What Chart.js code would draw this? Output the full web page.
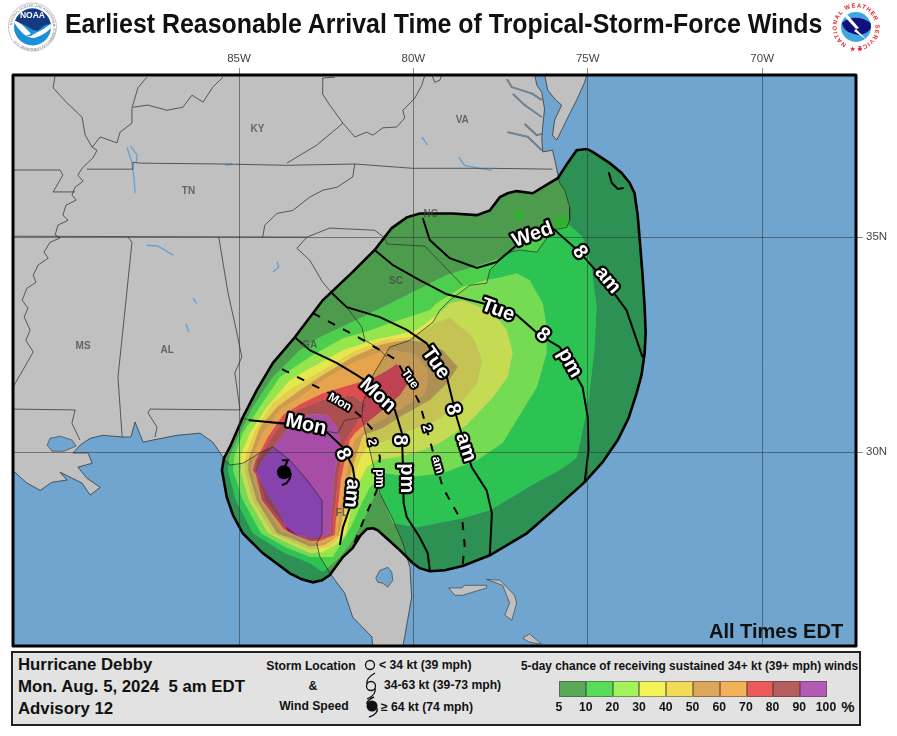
<!DOCTYPE html>
<html>
<head>
<meta charset="utf-8">
<title>Earliest Reasonable Arrival Time of Tropical-Storm-Force Winds</title>
<script src="https://cdn.jsdelivr.net/npm/chart.js@4"></script>
<style>
html, body { margin: 0; padding: 0; background: #fff; }
#page { position: relative; width: 897px; height: 736px; overflow: hidden; font-family: "Liberation Sans", Arial, sans-serif; font-weight: bold; color: #111; }
#page canvas { position: absolute; left: 0; top: 0; }
#title { position: absolute; left: 65px; top: 7px; font-size: 28px; line-height: 34px; white-space: pre; transform-origin: left top; transform: scaleX(0.89); }
#panel { position: absolute; left: 11px; top: 651px; width: 846px; height: 71px; background: #e2e2e2; border: 2px solid #222; }
.t { position: absolute; white-space: pre; transform: translateY(-50%); font-size: 12.2px; }
.c { transform: translate(-50%, -50%); }
.big { font-size: 16.8px; }
#alltimes { position: absolute; left: 709px; top: 621px; font-size: 20px; line-height: 20px; }
svg { position: absolute; overflow: visible; }
.sw { position: absolute; top: 681px; height: 16px; }
</style>
</head>
<body>
<div id="page">
<canvas id="map" width="897" height="736"></canvas>
<div id="title">Earliest Reasonable Arrival Time of Tropical-Storm-Force Winds</div>
<div id="alltimes">All Times EDT</div>
<div id="panel"></div>
<div class="t big" style="left:18px;top:665px">Hurricane Debby</div>
<div class="t big" style="left:18px;top:687px">Mon. Aug. 5, 2024  5 am EDT</div>
<div class="t big" style="left:18px;top:709px">Advisory 12</div>
<div class="t c" style="left:311px;top:666px">Storm Location</div>
<div class="t c" style="left:313px;top:686px">&amp;</div>
<div class="t c" style="left:314px;top:706px">Wind Speed</div>
<div class="t" style="left:379px;top:665px">&lt; 34 kt (39 mph)</div>
<div class="t" style="left:384px;top:685px">34-63 kt (39-73 mph)</div>
<div class="t" style="left:381px;top:707px">≥ 64 kt (74 mph)</div>
<div class="t" style="left:521px;top:666px;font-size:11.85px">5-day chance of receiving sustained 34+ kt (39+ mph) winds</div>
<div class="t c" style="left:848px;top:706px;font-size:15px">%</div>
<svg style="left:0;top:0" width="897" height="736">
  <circle cx="370" cy="665" r="4.5" fill="none" stroke="#111" stroke-width="1.3"/>
  <circle cx="371" cy="686" r="4.5" fill="none" stroke="#111" stroke-width="1.3"/>
  <path d="M375 673 C368 677 366 680 367 684 M367 699 C374 696 376 692 375 688" fill="none" stroke="#111" stroke-width="1.3"/>
  <circle cx="372" cy="706" r="5.5" fill="#111"/>
  <path d="M374 697 C369 699 367 701 367 704 M369 717 C376 715 378 711 377 708" fill="none" stroke="#111" stroke-width="1.4"/>
  <!-- NOAA -->
  <defs>
    <path id="noaaRing" d="M12 27 A20.5 20.5 0 1 1 53 27"/>
    <path id="noaaRing2" d="M9 27 A23.5 23.5 0 0 0 56 27"/>
    <path id="nwsRing" d="M856 46.5 A19.5 19.5 0 1 1 856.1 46.5"/>
    <clipPath id="noaaClip"><circle cx="32.5" cy="27" r="18.5"/></clipPath>
    <clipPath id="nwsClip"><circle cx="856" cy="27" r="15"/></clipPath>
  </defs>
  <circle cx="32.5" cy="27" r="24" fill="#fff" stroke="#aab" stroke-width="0.7"/>
  <text font-size="3.3" fill="#667" font-weight="normal"><textPath href="#noaaRing" startOffset="3%">NATIONAL OCEANIC AND ATMOSPHERIC ADMINISTRATION</textPath></text>
  <text font-size="3.3" fill="#667" font-weight="normal"><textPath href="#noaaRing2" startOffset="22%">U.S. DEPARTMENT OF COMMERCE</textPath></text>
  <g clip-path="url(#noaaClip)">
    <rect x="10" y="5" width="46" height="46" fill="#1b8fd8"/>
    <path d="M12 8 H53 V25 C47 23 43 26 40 29 C36 32 33 30 30 28 C24 24 18 22 12 20 Z" fill="#14397f"/>
    <path d="M13 20 C20 22 26 28 31 34 C29 35 27 35 26 36 L31 36 C34 33 44 30 53 22 L54 25 C47 33 40 36 34 38 C26 38 18 30 13 20 Z" fill="#fff"/>
  </g>
  <text x="32.5" y="18" text-anchor="middle" font-size="8.5" fill="#fff">NOAA</text>
  <!-- NWS -->
  <circle cx="856" cy="27" r="15" fill="#3fa6df"/>
  <g clip-path="url(#nwsClip)">
    <path d="M842 23 C849 16 861 16 871 23 C873 29 867 34 859 35 C851 34 843 31 842 23 Z" fill="#10107f"/>
    <path d="M846 13 L859 28 L856 29 L867 40 L854 31 L856 29 L844 16 Z" fill="#fff"/>
  </g>
  <text font-size="6" fill="#e3242b" letter-spacing="0.9"><textPath href="#nwsRing" startOffset="8%">NATIONAL WEATHER SERVICE</textPath></text>
  <text x="856" y="51" text-anchor="middle" font-size="6" fill="#e3242b">★ ★</text>
</svg>
</div>
<script>
const lonTicks = [-85, -80, -75, -70];
const latTicks = [35, 30];
const legendLabels = ['5', '10', '20', '30', '40', '50', '60', '70', '80', '90', '100'];
const bandColors = ['rgba(0,132,0,.6)', 'rgba(0,215,0,.6)', 'rgba(120,255,0,.6)', 'rgba(255,255,0,.6)', 'rgba(255,215,0,.6)',
    'rgba(215,130,0,.6)', 'rgba(255,145,0,.6)', 'rgba(245,0,0,.6)', 'rgba(155,5,5,.6)', 'rgba(150,0,150,.6)'];

// land, [lon, lat]
const coastMain = [[-92,39],[-76.52,39],[-76.52,38.77],[-76.46,38.53],[-76.32,38.37],[-76.24,37.98],[-76.29,37.60],[-76.32,37.28],[-76.29,36.98],[-76.01,37.02],[-75.89,36.58],[-75.83,36.33],[-75.80,36.25],[-75.66,36.09],[-75.52,35.70],[-75.52,35.40],[-75.60,35.23],[-76.01,35.16],[-76.46,34.65],[-76.95,34.70],[-77.32,34.63],[-77.81,34.23],[-77.90,33.93],[-78.38,33.88],[-78.96,33.53],[-79.24,33.30],[-79.44,33.02],[-79.73,32.84],[-80.10,32.60],[-80.68,32.44],[-80.82,32.25],[-81.16,31.79],[-81.45,31.14],[-81.48,30.81],[-81.25,30.04],[-80.96,29.04],[-80.62,28.49],[-80.30,27.88],[-80.10,27.32],[-80.05,26.63],[-80.25,25.70],[-80.33,25.40],[-81.16,25.40],[-81.19,25.70],[-81.74,26.16],[-81.97,26.72],[-82.31,27.09],[-82.68,27.56],[-82.77,27.88],[-82.62,28.11],[-82.62,28.88],[-83.05,29.35],[-83.54,29.81],[-84.03,30.12],[-84.40,29.98],[-84.89,29.74],[-85.26,29.70],[-85.40,29.81],[-85.75,30.23],[-86.12,30.44],[-86.78,30.39],[-87.47,30.28],[-87.75,30.23],[-87.98,30.70],[-88.10,30.35],[-88.33,30.35],[-88.90,30.39],[-89.27,30.32],[-89.56,30.16],[-89.76,29.98],[-89.33,29.98],[-89.21,29.74],[-89.62,29.65],[-89.36,29.39],[-88.98,29.18],[-89.27,29.00],[-89.50,29.28],[-90.13,29.53],[-89.93,29.35],[-90.36,29.30],[-90.70,29.11],[-91.08,29.28],[-91.28,29.42],[-91.42,29.53],[-92,29.53]];
const coastDelmarva = [[-76.29,39],[-76.15,38.42],[-75.92,38.19],[-75.75,38.07],[-75.95,37.72],[-76.01,37.37],[-75.89,37.26],[-75.72,37.54],[-75.60,37.74],[-75.32,38.19],[-75.09,38.60],[-75.03,38.77],[-75.03,39]];
const grandBahama = [[-78.99,26.84],[-78.81,26.67],[-78.59,26.67],[-77.90,26.84],[-77.90,26.90],[-78.53,26.90],[-78.61,26.84]];
const abaco = [[-77.90,27.04],[-77.52,27.02],[-77.10,26.67],[-77.04,26.49],[-77.18,26.09],[-77.38,26.21],[-77.24,26.49],[-77.44,26.90]];
const eleuthera = [[-76.87,25.67],[-76.67,25.77],[-76.32,25.53],[-76.67,25.58]];
const lakePontchartrain = [[-90.50,30.16],[-90.42,30.32],[-90.13,30.37],[-89.79,30.28],[-89.67,30.14],[-90.02,30.02],[-90.36,30.02]];
const lakeOkeechobee = [[-81.08,27.07],[-80.96,27.25],[-80.73,27.32],[-80.62,27.21],[-80.59,27.02],[-80.73,26.86],[-80.88,26.95],[-81.02,26.97]];

// state lines
const stateLines = [
    [[-90.27,38.77],[-90.33,38.47],[-89.93,38.12],[-89.50,37.79],[-89.41,37.37],[-89.21,37.09],[-89.07,37.02],[-89.19,36.84],[-89.50,36.60],[-89.62,36.44],[-89.47,36.30],[-89.70,36.16],[-89.79,35.98],[-89.67,35.86],[-89.96,35.74],[-90.05,35.51],[-89.90,35.39],[-90.19,35.28],[-90.27,35.05],[-90.13,34.98],[-90.42,34.88],[-90.59,34.65],[-90.47,34.51],[-90.76,34.35],[-90.90,34.11],[-90.82,33.95],[-91.08,33.81],[-91.22,33.53],[-91.05,33.35],[-91.16,33.14],[-90.99,32.84],[-91.11,32.60],[-90.90,32.33],[-91.28,31.79],[-91.48,31.51]],
    [[-89.21,37.09],[-88.98,37.33],[-88.50,37.19],[-88.41,37.44],[-88.07,37.65],[-88.07,38.00],[-87.90,38.47],[-87.64,38.72]],
    [[-88.04,38.02],[-87.61,38.07],[-87.07,37.95],[-86.61,38.02],[-86.35,38.30],[-86.03,38.14],[-85.75,38.49],[-85.46,38.72]],
    [[-89.36,36.58],[-88.04,36.58],[-88.04,36.74],[-87.84,36.72],[-85.46,36.70],[-83.63,36.67],[-81.68,36.70],[-80.02,36.60],[-77.81,36.60],[-76.01,36.58]],
    [[-83.63,36.72],[-82.77,37.14],[-82.02,37.65],[-82.40,38.07],[-82.62,38.35],[-82.60,38.70],[-82.25,38.72]],
    [[-82.02,37.65],[-81.68,37.33],[-81.34,37.44],[-81.16,37.37],[-80.88,37.54],[-80.48,37.56],[-80.25,37.77],[-80.30,37.95],[-79.96,38.23],[-79.76,38.53],[-79.67,38.77],[-79.47,38.77],[-79.39,38.60],[-79.24,38.65],[-79.19,38.77]],
    [[-91.48,35.02],[-83.05,35.00],[-82.40,35.21],[-81.11,35.16],[-80.82,34.98],[-80.76,34.84],[-79.67,34.79],[-78.59,33.88]],
    [[-84.32,35.00],[-84.26,35.28],[-83.91,35.55],[-83.46,35.62],[-82.97,35.93],[-82.60,36.09],[-82.19,36.16],[-81.74,36.40],[-81.68,36.70]],
    [[-83.05,35.00],[-83.34,34.74],[-82.97,34.46],[-82.60,33.95],[-82.34,33.70],[-81.91,33.37],[-81.48,32.91],[-81.39,32.60],[-81.05,32.44],[-80.76,32.21]],
    [[-91.48,36.56],[-90.13,36.56],[-90.05,36.44],[-90.33,36.05],[-89.70,36.05]],
    [[-88.18,35.00],[-88.07,34.88],[-88.21,33.77],[-88.41,32.21],[-88.47,31.74],[-88.35,30.35]],
    [[-85.58,35.00],[-85.32,33.72],[-85.06,32.77],[-84.92,32.21],[-85.12,31.84],[-84.97,30.98]],
    [[-84.97,30.98],[-87.55,31.00],[-87.61,30.91],[-87.35,30.58],[-87.41,30.35]],
    [[-91.48,31.00],[-89.70,30.98],[-89.79,30.67],[-89.56,30.28]],
    [[-84.97,30.79],[-82.17,30.44],[-81.97,30.74],[-81.48,30.81]]
];
const waterLines = [
    [[-88.21,37.09],[-88.07,36.72],[-88.01,36.37],[-87.98,36.02]],
    [[-88.12,37.12],[-87.92,36.91],[-87.95,36.72]],
    [[-87.64,34.81],[-87.32,34.79],[-86.89,34.58]],
    [[-83.91,34.42],[-83.86,34.30],[-84.03,34.19]],
    [[-85.40,36.67],[-85.20,36.70]],
    [[-79.76,37.33],[-79.59,37.14]],
    [[-78.70,36.86],[-78.53,36.67],[-78.10,36.60],[-77.75,36.55]],
    [[-86.32,33.58],[-86.21,33.46]],
    [[-86.52,32.99],[-86.44,32.79]]
];
const inletLines = [
    [[-77.32,38.67],[-77.18,38.49],[-76.58,38.33],[-76.32,38.19]],
    [[-77.15,38.33],[-76.81,38.07],[-76.32,37.79]],
    [[-76.81,37.63],[-76.46,37.37],[-76.32,37.40]],
    [[-77.30,37.44],[-76.72,37.33],[-76.32,37.02]]
];

// probability contours, outermost first
const contour5 = [[-75.03,37.05],[-74.86,36.98],[-74.37,36.72],[-74.03,36.49],[-73.80,36.26],[-73.66,36.02],[-73.57,35.51],[-73.51,34.93],[-73.43,34.12],[-73.37,33.37],[-73.34,32.77],[-73.37,32.30],[-73.46,31.79],[-73.60,31.37],[-73.83,30.79],[-74.14,30.28],[-74.57,29.77],[-75.09,29.30],[-75.89,28.72],[-76.75,28.11],[-77.81,27.60],[-78.59,27.35],[-79.10,27.25],[-79.53,27.23],[-79.82,27.30],[-80.02,27.42],[-80.39,27.72],[-80.76,27.99],[-81.02,28.18],[-81.16,28.23],[-81.34,28.21],[-81.51,28.07],[-81.74,27.77],[-82.02,27.56],[-82.40,27.14],[-82.62,27.02],[-82.88,26.97],[-83.20,27.04],[-83.54,27.18],[-84.32,27.65],[-84.89,28.11],[-85.17,28.53],[-85.35,28.95],[-85.49,29.58],[-85.43,29.86],[-85.26,30.12],[-84.89,30.81],[-84.49,31.44],[-84.03,32.07],[-83.40,32.67],[-82.60,33.53],[-81.74,34.19],[-81.11,34.70],[-80.62,35.21],[-80.19,35.46],[-79.82,35.55],[-78.87,35.55],[-78.18,35.51],[-77.81,35.62],[-77.52,35.93],[-77.30,36.02],[-77.04,36.07],[-76.58,36.02],[-76.09,36.26],[-75.86,36.37],[-75.58,36.72],[-75.32,37.02]];
const contour10 = [[-75.52,35.28],[-75.15,35.00],[-74.89,34.30],[-74.75,33.37],[-74.80,32.44],[-75.00,31.05],[-75.32,29.86],[-75.81,29.58],[-76.46,29.30],[-77.81,28.65],[-78.59,28.46],[-79.90,28.25],[-80.59,28.35],[-80.88,28.93],[-81.05,29.11],[-81.39,28.49],[-81.74,27.95],[-82.11,27.56],[-82.60,27.21],[-82.97,27.42],[-83.68,27.65],[-84.60,28.11],[-85.09,28.88],[-85.32,29.58],[-85.26,29.93],[-84.97,30.44],[-84.60,31.05],[-84.03,31.74],[-83.25,32.37],[-82.68,32.67],[-81.45,33.14],[-80.30,33.60],[-79.04,34.12],[-77.90,34.40],[-77.32,34.58],[-76.75,34.86],[-76.01,35.16]];
const contour20 = [[-77.04,34.16],[-76.67,34.00],[-76.29,33.46],[-76.18,32.91],[-76.18,32.30],[-76.46,31.51],[-76.95,30.86],[-77.44,30.21],[-78.18,29.81],[-79.16,29.51],[-80.10,29.42],[-80.82,29.51],[-81.25,29.18],[-81.54,28.72],[-81.77,28.30],[-82.02,27.95],[-82.31,27.56],[-82.97,27.56],[-83.68,27.79],[-84.37,28.11],[-84.89,28.88],[-85.17,29.58],[-85.12,29.93],[-84.89,30.44],[-84.40,31.05],[-83.83,31.74],[-82.97,32.21],[-82.02,32.65],[-81.45,32.77],[-80.59,33.02],[-79.53,33.30],[-79.33,33.46],[-78.59,33.84],[-77.90,34.00],[-77.47,34.07]];
const contour30 = [[-78.59,33.53],[-77.72,33.25],[-77.32,32.84],[-77.15,32.30],[-77.30,31.74],[-77.72,31.27],[-78.47,30.63],[-79.24,30.21],[-79.73,30.04],[-80.48,29.88],[-81.05,29.81],[-81.34,29.65],[-81.62,29.18],[-81.74,28.88],[-81.85,28.42],[-81.94,28.07],[-82.25,27.84],[-82.60,27.67],[-82.97,27.65],[-83.60,27.88],[-84.17,28.11],[-84.72,28.88],[-84.97,29.58],[-84.95,29.93],[-84.69,30.44],[-84.20,31.05],[-83.54,31.67],[-82.97,31.95],[-82.02,32.37],[-81.05,32.63],[-80.48,32.72],[-79.90,32.84],[-79.16,33.30],[-78.96,33.46]];
const contour40 = [[-78.96,33.11],[-78.30,32.67],[-78.04,32.14],[-78.18,31.60],[-78.67,31.14],[-79.33,30.74],[-80.10,30.51],[-80.76,30.28],[-81.34,30.11],[-81.54,29.81],[-81.74,29.35],[-81.85,28.88],[-81.97,28.42],[-82.05,28.07],[-82.40,27.79],[-82.97,27.74],[-83.54,27.95],[-84.03,28.11],[-84.60,28.88],[-84.83,29.58],[-84.80,29.93],[-84.54,30.51],[-84.03,31.14],[-83.46,31.49],[-82.68,31.86],[-81.74,32.32],[-80.88,32.60],[-80.10,32.67],[-79.33,33.00]];
const contour50 = [[-80.19,32.60],[-79.73,32.56],[-79.16,32.37],[-78.73,31.98],[-79.04,31.60],[-79.53,31.21],[-80.30,30.86],[-80.88,30.56],[-81.45,30.39],[-81.68,29.81],[-81.85,29.35],[-81.97,28.88],[-82.05,28.42],[-82.14,28.07],[-82.54,27.84],[-82.97,27.81],[-83.48,27.99],[-83.91,28.11],[-84.49,28.88],[-84.74,29.58],[-84.71,29.88],[-84.40,30.58],[-83.91,31.05],[-83.25,31.44],[-82.60,31.79],[-81.74,32.21],[-80.96,32.49],[-80.59,32.56]];
const contour60 = [[-80.53,32.37],[-79.96,32.28],[-79.59,31.91],[-79.59,31.56],[-79.73,31.30],[-80.19,31.09],[-80.76,30.81],[-81.34,30.56],[-81.68,30.28],[-81.82,29.81],[-81.97,29.35],[-82.05,28.88],[-82.14,28.42],[-82.19,28.04],[-82.62,27.88],[-82.97,27.88],[-83.43,28.04],[-83.80,28.16],[-84.40,28.88],[-84.66,29.58],[-84.63,29.86],[-84.32,30.44],[-83.83,30.98],[-83.25,31.28],[-82.60,31.67],[-81.74,32.07],[-81.05,32.30],[-80.68,32.37]];
const contour70 = [[-80.48,32.05],[-80.25,31.86],[-80.13,31.63],[-80.39,31.32],[-80.82,31.02],[-81.31,30.70],[-81.68,30.44],[-81.82,30.28],[-81.97,29.81],[-82.08,29.35],[-82.14,28.88],[-82.22,28.42],[-82.25,28.07],[-82.68,27.93],[-82.97,27.93],[-83.40,28.07],[-83.71,28.21],[-84.34,28.88],[-84.52,29.49],[-84.60,29.58],[-84.52,29.81],[-84.17,30.35],[-83.74,30.86],[-83.25,31.11],[-82.60,31.37],[-81.82,31.56],[-81.16,31.72],[-80.73,31.91]];
const contour80 = [[-83.34,30.98],[-82.60,31.21],[-81.74,31.32],[-81.36,31.09],[-81.65,30.63],[-81.94,30.28],[-82.08,29.81],[-82.17,29.35],[-82.22,28.88],[-82.31,28.42],[-82.31,28.07],[-82.68,27.98],[-82.97,27.98],[-83.37,28.09],[-83.66,28.27],[-84.26,28.88],[-84.46,29.49],[-84.54,29.56],[-84.46,29.81],[-84.11,30.28],[-83.68,30.79]];
const contour90 = [[-83.68,30.46],[-83.34,30.74],[-82.97,30.88],[-82.48,30.86],[-82.19,30.58],[-82.11,30.28],[-82.19,29.81],[-82.28,29.35],[-82.31,28.88],[-82.37,28.42],[-82.37,28.11],[-82.68,28.02],[-82.97,28.02],[-83.34,28.07],[-83.60,28.16],[-83.83,28.58],[-84.20,29.05],[-84.49,29.53],[-84.32,29.81],[-84.03,30.09]];
// small brighter patches on the NC sounds
const spotPamlico = [[-77.15,35.58],[-76.95,35.65],[-76.81,35.49],[-77.01,35.35]];
const spotHatteras = [[-76.01,35.40],[-75.66,35.55],[-75.52,35.28],[-75.80,35.16]];

// arrival time lines
const mon8am = [[-84.72,30.74],[-83.74,30.67],[-83.11,30.60],[-82.48,30.46],[-82.02,30.11],[-81.74,29.65],[-81.68,29.35],[-81.77,28.88],[-81.82,28.72],[-82.02,28.25],[-82.11,27.84]];
const mon8pm = [[-83.40,32.67],[-82.97,32.37],[-82.19,32.07],[-81.62,31.79],[-81.05,31.49],[-80.53,30.98],[-80.33,30.44],[-80.30,29.65],[-80.28,28.81],[-80.19,28.49],[-79.82,28.02],[-79.59,27.65],[-79.53,27.25]];
const tue8am = [[-82.34,33.70],[-81.91,33.37],[-80.96,33.14],[-80.19,32.84],[-79.62,32.53],[-79.04,31.74],[-78.76,30.81],[-78.33,29.65],[-77.90,29.11],[-77.75,28.58],[-77.78,28.07],[-77.81,27.60]];
const tue8pm = [[-81.11,34.70],[-80.59,34.35],[-79.82,34.00],[-79.04,33.67],[-78.01,33.46],[-77.04,33.19],[-76.38,32.72],[-75.80,32.44],[-75.15,31.51],[-75.00,30.81],[-74.98,30.04],[-75.09,29.30]];
const wed8am = [[-79.73,35.44],[-79.53,34.93],[-78.96,34.51],[-78.18,34.28],[-77.61,34.42],[-77.04,34.81],[-76.01,35.21],[-75.23,34.65],[-74.46,33.93],[-73.89,33.30],[-73.43,32.21]];
const mon2pm = [[-83.77,31.93],[-82.68,31.48],[-82.11,31.25],[-81.48,30.81],[-81.16,30.51],[-80.96,29.88],[-81.05,29.11],[-81.39,28.49],[-81.74,27.79]];
const tue2am = [[-82.88,33.23],[-81.54,32.65],[-80.48,32.14],[-79.82,31.14],[-79.53,30.28],[-79.16,29.18],[-78.59,28.35],[-78.53,27.84],[-78.59,27.37]];
const hook = [[-74.40,36.51],[-74.31,36.26],[-74.14,36.12],[-73.97,36.14]];

// storm
const stormCenter = [[-83.71,29.53]];
const stormArmTop = [[-83.68,29.67],[-83.60,29.81],[-83.77,29.81]];
const stormArmBottom = [[-83.51,29.51],[-83.54,29.39],[-83.63,29.28],[-83.77,29.23]];

const stateLabels = [['KY',-84.47,37.51],['TN',-86.45,36.07],['VA',-78.60,37.72],['NC',-79.50,35.54],['SC',-80.50,33.98],['GA',-82.97,32.49],['AL',-87.06,32.37],['MS',-89.47,32.46],['FL',-82.05,28.58]];
const timeLabels = [
    ['Mon',-83.08,30.63,12,20],['8',-82.02,29.95,65,20],['am',-81.77,29.04,95,20],
    ['Mon',-81.02,31.32,42,20],['8',-80.39,30.28,90,20],['pm',-80.19,29.39,90,20],
    ['Tue',-79.36,32.07,55,20],['8',-78.87,30.99,75,20],['am',-78.50,30.11,72,20],
    ['Tue',-77.58,33.30,20,20],['8',-76.29,32.72,40,20],['pm',-75.52,32.07,60,20],
    ['Wed',-76.58,35.05,-20,20],['8',-75.23,34.65,55,20],['am',-74.43,34.00,50,20],
    ['Mon',-82.11,31.16,30,12],['2',-81.19,30.23,80,12],['pm',-80.99,29.39,90,12],
    ['Tue',-80.10,31.70,55,12],['2',-79.62,30.56,75,12],['am',-79.30,29.70,75,12]
];

function xy(pts) { return pts.map(p => ({x: p[0], y: p[1]})); }
function ring(outer, inner) {
    // outer loop plus the inner loop run backwards, so the middle stays empty
    const hole = [inner[0], ...inner.slice(1).reverse(), inner[0]];
    return [...outer, outer[0], ...hole];
}
function closed(pts) { return [...pts, pts[0]]; }
function area(pts, color) {
    return {data: xy(pts), showLine: true, pointRadius: 0, fill: 'shape', backgroundColor: color, borderWidth: 0, borderColor: 'transparent'};
}
function stroke(pts, color, width, dash) {
    return {data: xy(pts), showLine: true, pointRadius: 0, fill: false, borderColor: color, borderWidth: width, borderDash: dash || []};
}

const contours = [contour5, contour10, contour20, contour30, contour40, contour50, contour60, contour70, contour80, contour90];
const LAND = '#c0c0c0', OCEAN = '#6fa5cf', COAST = 'rgba(40,40,40,.7)', STATE = 'rgba(50,50,50,.75)', RIVER = '#5ba3d9';

const layers = [
    area(coastMain, LAND), area(coastDelmarva, LAND),
    area(grandBahama, LAND), area(abaco, LAND), area(eleuthera, LAND),
    area(lakePontchartrain, OCEAN), area(lakeOkeechobee, OCEAN)
];
waterLines.forEach(l => layers.push(stroke(l, RIVER, 1.3)));
inletLines.forEach(l => layers.push(stroke(l, 'rgba(60,60,60,.7)', 1.8)));
inletLines.forEach(l => layers.push(stroke(l, OCEAN, 0.8)));
contours.forEach((c, i) => {
    const pts = i < contours.length - 1 ? ring(c, contours[i + 1]) : c;
    layers.push(area(pts, bandColors[i]));
});
[spotPamlico, spotHatteras].forEach(s => layers.push(area(s, 'rgba(0,215,0,.35)')));
[coastMain, coastDelmarva].forEach(c => layers.push(stroke(c, COAST, 1)));
[grandBahama, abaco, eleuthera, lakePontchartrain, lakeOkeechobee].forEach(c => layers.push(stroke(closed(c), COAST, 0.8)));
stateLines.forEach(l => layers.push(stroke(l, STATE, 1)));
layers.push(stroke(closed(contour5), '#000', 2.6));
[mon8am, mon8pm, tue8am, tue8pm, wed8am, hook].forEach(l => layers.push(stroke(l, '#000', 2)));
[mon2pm, tue2am].forEach(l => layers.push(stroke(l, '#000', 2, [8, 9])));
layers.push(stroke(stormArmTop, '#000', 2), stroke(stormArmBottom, '#000', 2));
layers.push({data: xy(stormCenter), pointRadius: 7, pointBackgroundColor: '#000', pointBorderWidth: 0});
layers.forEach((d, i) => { d.order = layers.length - i; });

const mapPaint = {
    id: 'mapPaint',
    beforeDatasetsDraw(chart) {
        const a = chart.chartArea, ctx = chart.ctx;
        ctx.save();
        ctx.fillStyle = OCEAN;
        ctx.fillRect(a.left, a.top, a.width, a.height);
        ctx.restore();
    },
    afterDraw(chart) {
        const a = chart.chartArea, ctx = chart.ctx, sx = chart.scales.x, sy = chart.scales.y;
        ctx.save();
        ctx.textAlign = 'center';
        ctx.textBaseline = 'middle';
        ctx.font = 'bold 10px "Liberation Sans", Arial, sans-serif';
        ctx.fillStyle = 'rgba(70,70,70,.75)';
        stateLabels.forEach(s => ctx.fillText(s[0], sx.getPixelForValue(s[1]), sy.getPixelForValue(s[2])));
        ctx.lineJoin = 'round';
        timeLabels.forEach(l => {
            ctx.save();
            ctx.translate(sx.getPixelForValue(l[1]), sy.getPixelForValue(l[2]));
            ctx.rotate(l[3] * Math.PI / 180);
            ctx.font = 'bold ' + l[4] + 'px "Liberation Sans", Arial, sans-serif';
            ctx.strokeStyle = '#000';
            ctx.lineWidth = l[4] > 15 ? 4.5 : 4;
            ctx.strokeText(l[0], 0, 0);
            ctx.fillStyle = '#fff';
            ctx.fillText(l[0], 0, 0);
            ctx.restore();
        });
        ctx.strokeStyle = '#000';
        ctx.lineWidth = 3;
        ctx.strokeRect(a.left, a.top, a.width, a.height);
        ctx.restore();
    }
};

new Chart(document.getElementById('map').getContext('2d'), {
    type: 'scatter',
    data: {datasets: layers},
    plugins: [mapPaint],
    options: {
        responsive: false,
        animation: false,
        events: [],
        layout: {padding: {left: 13, right: 0, top: 0, bottom: 90}},
        plugins: {legend: {display: false}, tooltip: {enabled: false}},
        scales: {
            x: {
                type: 'linear', position: 'top', min: -91.48, max: -67.31,
                afterFit(s) { s.height = 75; },
                afterBuildTicks(s) { s.ticks = lonTicks.map(v => ({value: v})); },
                grid: {z: 1, color: 'rgba(50,50,50,.55)', lineWidth: 1, tickLength: 7, drawOnChartArea: true},
                border: {display: false},
                ticks: {maxRotation: 0, autoSkip: false, color: '#444', padding: 2, font: {size: 11.5, family: '"Liberation Sans", Arial, sans-serif'}, callback: v => Math.abs(v) + 'W'}
            },
            y: {
                type: 'linear', position: 'right', min: 25.49, max: 38.77,
                afterFit(s) { s.width = 41; },
                afterBuildTicks(s) { s.ticks = latTicks.map(v => ({value: v})); },
                grid: {z: 1, color: 'rgba(50,50,50,.55)', lineWidth: 1, tickLength: 7},
                border: {display: false},
                ticks: {autoSkip: false, color: '#444', padding: 3, font: {size: 11.5, family: '"Liberation Sans", Arial, sans-serif'}, callback: v => v + 'N'}
            }
        }
    }
});

// colour legend under the map
const page = document.getElementById('page');
bandColors.forEach((c, i) => {
    const sw = document.createElement('div');
    sw.className = 'sw';
    sw.style.left = (559 + i * 26.8) + 'px';
    sw.style.width = '26.8px';
    sw.style.background = c;
    sw.style.boxSizing = 'border-box';
    sw.style.border = '0.5px solid rgba(60,60,60,.5)';
    page.appendChild(sw);
});
legendLabels.forEach((t, i) => {
    const el = document.createElement('div');
    el.className = 't c';
    el.style.left = (559 + i * 26.7) + 'px';
    el.style.top = '707px';
    el.textContent = t;
    page.appendChild(el);
});
</script>
</body>
</html>
